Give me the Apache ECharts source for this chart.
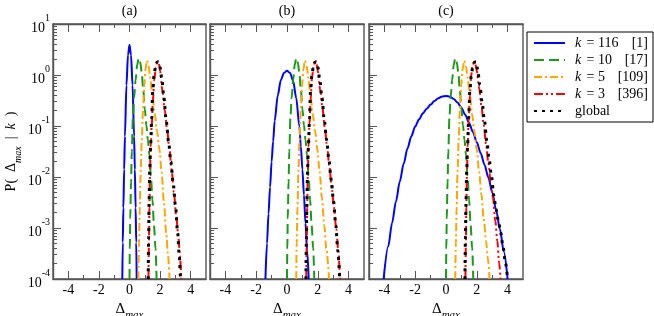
<!DOCTYPE html>
<html>
<head>
<meta charset="utf-8">
<script src="https://cdn.jsdelivr.net/npm/echarts@6.0.0/dist/echarts.min.js"></script>
<style>
html,body{margin:0;padding:0;background:#fff;}
#chart{width:654px;height:316px;}
</style>
</head>
<body>
<div id="chart"></div>
<script>
// ---------- texts / ticks ----------
const panelTitles = ['(a)', '(b)', '(c)'];
const xMajorTicks = [-4, -2, 0, 2, 4];
const xMinorTicks = [-3, -1, 1, 3];
const legendKeys = ['k116', 'k10', 'k5', 'k3', 'global'];
const legendK = ['116', '10', '5', '3'];
const legendCounts = ['[1]', '[17]', '[109]', '[396]'];

// ---------- shared k = 10 curve ----------
const green_x = [0, 0.02, 0.05, 0.1, 0.15, 0.22, 0.3, 0.4, 0.5, 0.6, 0.7, 0.8, 0.9, 1.0, 1.1, 1.2, 1.3, 1.4, 1.5, 1.6, 1.7, 1.77];
const green_p = [1e-4, 3.98e-4, 1.58e-3, 7.94e-3, 3.16e-2, 0.141, 0.355, 0.794, 1.58, 2.14, 1.78, 1.12, 0.501, 0.219, 0.105, 5.37e-2, 2.75e-2, 1.05e-2, 3.55e-3, 1.12e-3, 3.98e-4, 1e-4];

// ---------- panel (a) ----------
const a_blue_x = [-0.47, -0.44, -0.4, -0.35, -0.3, -0.2, -0.1, 0, 0.1, 0.2, 0.3, 0.35, 0.4, 0.44, 0.47];
const a_blue_p = [1e-4, 5.2e-4, 2.5e-3, 1.4e-2, 6.3e-2, 0.63, 2.45, 3.9, 2.45, 0.63, 6.3e-2, 1.4e-2, 2.5e-3, 5.2e-4, 1e-4];
const a_orange_x = [0.58, 0.62, 0.67, 0.73, 0.8, 0.88, 0.97, 1.05, 1.14, 1.25, 1.35, 1.5, 1.65, 1.8, 1.95, 2.1, 2.25, 2.4, 2.52, 2.62];
const a_orange_p = [1e-4, 5.01e-4, 2.51e-3, 1.26e-2, 5.01e-2, 0.2, 0.631, 1.32, 1.91, 1.51, 0.891, 0.398, 0.178, 7.94e-2, 3.55e-2, 1.26e-2, 3.16e-3, 7.94e-4, 2.82e-4, 1e-4];
const a_red_x = [1.24, 1.27, 1.3, 1.34, 1.39, 1.45, 1.53, 1.62, 1.72, 1.82, 1.92, 2.0, 2.15, 2.3, 2.45, 2.6, 2.75, 2.9, 3.05, 3.2, 3.3, 3.38];
const a_red_p = [1e-4, 5.01e-4, 2.51e-3, 1.26e-2, 3.98e-2, 0.1, 0.316, 0.794, 1.41, 1.78, 1.66, 1.2, 0.501, 0.209, 8.91e-2, 3.8e-2, 1.41e-2, 5.01e-3, 1.78e-3, 6.31e-4, 2.82e-4, 1e-4];
const a_black_x = [1.22, 1.25, 1.28, 1.32, 1.38, 1.45, 1.52, 1.6, 1.7, 1.8, 1.9, 2.0, 2.12, 2.25, 2.4, 2.55, 2.7, 2.85, 3.0, 3.15, 3.25, 3.33];
const a_black_p = [1e-4, 6.31e-4, 3.16e-3, 1.26e-2, 3.98e-2, 0.141, 0.501, 0.955, 1.45, 1.78, 1.82, 1.41, 0.794, 0.355, 0.126, 5.01e-2, 2.0e-2, 7.94e-3, 2.82e-3, 7.94e-4, 2.82e-4, 1e-4];

// ---------- panel (b) ----------
const b_blue_x = [-1.4, -1.3, -1.2, -1.1, -1.0, -0.9, -0.8, -0.6, -0.4, -0.2, 0, 0.2, 0.4, 0.6, 0.8, 0.9, 1.0, 1.1, 1.2, 1.3, 1.41];
const b_blue_p = [1e-4, 5.01e-4, 1.91e-3, 6.31e-3, 2.0e-2, 5.01e-2, 0.126, 0.398, 0.794, 1.096, 1.216, 1.096, 0.759, 0.355, 0.1, 3.98e-2, 1.41e-2, 4.47e-3, 1.26e-3, 3.8e-4, 1e-4];
const b_orange_x = [0.6, 0.63, 0.68, 0.74, 0.81, 0.89, 0.98, 1.07, 1.16, 1.28, 1.38, 1.52, 1.67, 1.82, 1.97, 2.12, 2.27, 2.42, 2.55, 2.73];
const b_orange_p = [1e-4, 5.01e-4, 2.51e-3, 1.26e-2, 5.01e-2, 0.2, 0.631, 1.32, 1.91, 1.48, 0.891, 0.398, 0.174, 7.94e-2, 3.47e-2, 1.26e-2, 3.8e-3, 1.12e-3, 3.98e-4, 1e-4];
const b_red_x = [1.25, 1.28, 1.31, 1.35, 1.4, 1.46, 1.54, 1.62, 1.72, 1.82, 1.92, 2.0, 2.15, 2.3, 2.45, 2.6, 2.75, 2.9, 3.05, 3.2, 3.33, 3.44];
const b_red_p = [1e-4, 5.01e-4, 2.51e-3, 1.26e-2, 3.98e-2, 0.112, 0.355, 0.871, 1.45, 1.78, 1.62, 1.2, 0.525, 0.229, 9.55e-2, 4.07e-2, 1.62e-2, 6.31e-3, 2.51e-3, 9.55e-4, 3.55e-4, 1e-4];
const b_black_x = [1.23, 1.26, 1.29, 1.33, 1.39, 1.46, 1.53, 1.61, 1.71, 1.81, 1.91, 2.01, 2.13, 2.27, 2.42, 2.57, 2.72, 2.87, 3.02, 3.17, 3.3, 3.42];
const b_black_p = [1e-4, 6.31e-4, 3.16e-3, 1.26e-2, 3.98e-2, 0.141, 0.501, 0.955, 1.45, 1.78, 1.82, 1.41, 0.794, 0.355, 0.132, 5.37e-2, 2.19e-2, 8.91e-3, 3.39e-3, 1.12e-3, 3.55e-4, 1e-4];

// ---------- panel (c) ----------
const c_blue_x = [-4.05, -3.75, -3.5, -3.25, -3.0, -2.75, -2.5, -2.25, -2.0, -1.75, -1.5, -1.25, -1.0, -0.75, -0.5, -0.25, 0, 0.25, 0.5, 0.75, 1.0, 1.25, 1.5, 1.75, 2.0, 2.25, 2.5, 2.75, 3.0, 3.25, 3.5, 3.75, 4.0];
const c_blue_p = [1e-4, 4.37e-4, 1.26e-3, 3.31e-3, 8.13e-3, 1.82e-2, 3.63e-2, 6.31e-2, 9.77e-2, 0.135, 0.178, 0.219, 0.263, 0.309, 0.351, 0.380, 0.389, 0.376, 0.339, 0.288, 0.226, 0.166, 0.115, 7.59e-2, 4.79e-2, 2.95e-2, 1.74e-2, 9.77e-3, 5.01e-3, 2.29e-3, 9.55e-4, 3.47e-4, 1e-4];
const c_orange_x = [0.6, 0.64, 0.69, 0.75, 0.82, 0.9, 0.99, 1.08, 1.18, 1.3, 1.4, 1.55, 1.7, 1.85, 2.0, 2.15, 2.3, 2.45, 2.6, 2.72, 2.83];
const c_orange_p = [1e-4, 5.01e-4, 2.51e-3, 1.26e-2, 5.01e-2, 0.2, 0.631, 1.32, 1.91, 1.45, 0.891, 0.398, 0.166, 7.59e-2, 3.39e-2, 1.26e-2, 4.47e-3, 1.51e-3, 5.62e-4, 2.51e-4, 1e-4];
const c_red_x = [1.26, 1.29, 1.32, 1.36, 1.41, 1.47, 1.55, 1.63, 1.72, 1.82, 1.92, 2.0, 2.15, 2.3, 2.45, 2.6, 2.75, 2.9, 3.05, 3.2, 3.33, 3.45, 3.54];
const c_red_p = [1e-4, 5.01e-4, 2.51e-3, 1.26e-2, 3.98e-2, 0.126, 0.398, 0.955, 1.51, 1.78, 1.58, 1.2, 0.562, 0.251, 0.105, 4.47e-2, 1.91e-2, 7.94e-3, 3.98e-3, 1.41e-3, 5.62e-4, 2.09e-4, 1e-4];
const c_black_x = [1.23, 1.26, 1.3, 1.34, 1.4, 1.47, 1.55, 1.64, 1.74, 1.85, 1.95, 2.05, 2.2, 2.35, 2.5, 2.65, 2.8, 2.95, 3.1, 3.25, 3.4, 3.55, 3.7, 3.85, 4.0];
const c_black_p = [1e-4, 6.31e-4, 3.16e-3, 1.26e-2, 3.98e-2, 0.141, 0.501, 0.955, 1.45, 1.78, 1.82, 1.32, 0.631, 0.282, 0.126, 5.01e-2, 2.24e-2, 1.05e-2, 4.37e-3, 2.34e-3, 1.38e-3, 8.13e-4, 4.37e-4, 2.19e-4, 1e-4];

// ---------- build ----------
const FONT = "'Liberation Serif', 'DejaVu Serif', 'Times New Roman', serif";
const AXIS_COLOR = '#555';

const panelSeries = [
  {k116: [a_blue_x, a_blue_p], k10: [green_x, green_p], k5: [a_orange_x, a_orange_p], k3: [a_red_x, a_red_p], global: [a_black_x, a_black_p]},
  {k116: [b_blue_x, b_blue_p], k10: [green_x, green_p], k5: [b_orange_x, b_orange_p], k3: [b_red_x, b_red_p], global: [b_black_x, b_black_p]},
  {k116: [c_blue_x, c_blue_p], k10: [green_x, green_p], k5: [c_orange_x, c_orange_p], k3: [c_red_x, c_red_p], global: [c_black_x, c_black_p]}
];

const styleOf = {
  k116: {color: '#0000ff', type: 'solid', width: 2},
  k10: {color: '#1a9a1a', type: [10, 5], width: 2},
  k5: {color: '#ffa500', type: [8, 3, 2, 3], width: 2},
  k3: {color: '#ff0000', type: [9, 3, 2, 3, 2, 3], width: 2},
  global: {color: '#000000', type: [3, 5], width: 3}
};

const gridBoxes = [
  {left: 53, top: 24, width: 153, height: 255},
  {left: 210, top: 24, width: 154, height: 255},
  {left: 369, top: 24, width: 154, height: 255}
];

const yMinorPos = [];
for (let n = -4; n < 1; n++) {
  for (let k = 2; k <= 9; k++) yMinorPos.push(n + Math.log10(k));
}

const lineSt = {color: AXIS_COLOR, width: 1.4};
const tickSt = {color: AXIS_COLOR, width: 1};
const grids = gridBoxes.map(g => Object.assign({}, g, {show: true, borderColor: AXIS_COLOR, borderWidth: 1.4, backgroundColor: 'transparent', containLabel: false, outerBoundsMode: 'none'}));

const xAxes = [];
const yAxes = [];
gridBoxes.forEach((g, i) => {
  const base = {gridIndex: i, type: 'value', min: -5, max: 5, splitLine: {show: false}, axisPointer: {show: false}};
  xAxes.push(Object.assign({}, base, {
    position: 'bottom',
    axisLine: {show: true, onZero: false, lineStyle: lineSt},
    axisTick: {show: true, inside: true, length: 8, customValues: xMajorTicks, lineStyle: tickSt},
    axisLabel: {show: true, customValues: xMajorTicks, margin: 4, fontFamily: FONT, fontSize: 14, color: '#000'},
    name: '{d|Δ}{s|max}', nameLocation: 'middle', nameGap: 13,
    nameTextStyle: {rich: {
      d: {fontFamily: FONT, fontSize: 15, color: '#000', lineHeight: 19, verticalAlign: 'top'},
      s: {fontFamily: FONT, fontSize: 11, fontStyle: 'italic', color: '#000', lineHeight: 11, verticalAlign: 'bottom'}
    }}
  }));
  xAxes.push(Object.assign({}, base, {
    position: 'bottom',
    axisLine: {show: false, onZero: false},
    axisTick: {show: true, inside: true, length: 4, customValues: xMinorTicks, lineStyle: tickSt},
    axisLabel: {show: false}
  }));
  xAxes.push(Object.assign({}, base, {
    position: 'top',
    axisLine: {show: true, onZero: false, lineStyle: lineSt},
    axisTick: {show: true, inside: true, length: 8, customValues: xMajorTicks, lineStyle: tickSt},
    axisLabel: {show: false},
    name: panelTitles[i], nameLocation: 'middle', nameGap: 6,
    nameTextStyle: {fontFamily: FONT, fontSize: 14, color: '#000'}
  }));
  xAxes.push(Object.assign({}, base, {
    position: 'top',
    axisLine: {show: false, onZero: false},
    axisTick: {show: true, inside: true, length: 4, customValues: xMinorTicks, lineStyle: tickSt},
    axisLabel: {show: false}
  }));

  yAxes.push({
    gridIndex: i, type: 'log', logBase: 10, min: 1e-4, max: 10, position: 'left',
    splitLine: {show: false}, axisPointer: {show: false},
    axisLine: {show: true, onZero: false, lineStyle: lineSt},
    axisTick: {show: true, inside: true, length: 8, lineStyle: tickSt},
    minorTick: {show: false},
    axisLabel: {
      show: i === 0, margin: 3,
      formatter: v => '{b|10}{s|' + Math.round(Math.log10(v)) + '}',
      rich: {
        b: {fontFamily: FONT, fontSize: 14, color: '#000', lineHeight: 22, verticalAlign: 'bottom'},
        s: {fontFamily: FONT, fontSize: 10, color: '#000', lineHeight: 10, verticalAlign: 'top'}
      }
    },
    name: i === 0 ? '{b|P(}{sp|}{b|Δ}{s|max}{sp|}{b||}{sp|}{i|k}{sp|}{b|)}' : '',
    nameLocation: 'middle', nameGap: 24,
    nameTextStyle: {rich: {
      b: {fontFamily: FONT, fontSize: 14, color: '#000', lineHeight: 19, verticalAlign: 'top'},
      i: {fontFamily: FONT, fontSize: 14, fontStyle: 'italic', color: '#000', lineHeight: 19, verticalAlign: 'top'},
      s: {fontFamily: FONT, fontSize: 10, fontStyle: 'italic', color: '#000', lineHeight: 10, verticalAlign: 'bottom'},
      sp: {width: 7}
    }}
  });
  yAxes.push({
    gridIndex: i, type: 'value', min: -4, max: 1, position: 'left',
    splitLine: {show: false}, axisPointer: {show: false},
    axisLine: {show: false, onZero: false},
    axisTick: {show: true, inside: true, length: 4, customValues: yMinorPos, lineStyle: tickSt},
    axisLabel: {show: false}
  });
});

const series = [];
panelSeries.forEach((ps, i) => {
  legendKeys.forEach(key => {
    const xs = ps[key][0], ys = ps[key][1];
    const st = styleOf[key];
    series.push({
      name: key, type: 'line', xAxisIndex: 4 * i, yAxisIndex: 2 * i,
      data: xs.map((x, j) => [x, ys[j]]),
      symbol: 'none', showSymbol: false,
      smooth: 0.3, smoothMonotone: 'x',
      lineStyle: {color: st.color, type: st.type, width: st.width, cap: 'butt'},
      itemStyle: {color: st.color},
      emphasis: {disabled: true},
      clip: true
    });
  });
});

const chart = echarts.init(document.getElementById('chart'), null, {renderer: 'canvas'});
chart.setOption({
  animation: false,
  backgroundColor: '#fff',
  grid: grids,
  xAxis: xAxes,
  yAxis: yAxes,
  legend: {
    data: legendKeys,
    orient: 'vertical',
    left: 527, top: 32,
    padding: [4, 5, 4, 6],
    itemWidth: 31, itemHeight: 14, itemGap: 3,
    borderColor: '#000', borderWidth: 1,
    backgroundColor: '#fff',
    selectedMode: false,
    itemStyle: {opacity: 0},
    formatter: name => {
      const i = legendKeys.indexOf(name);
      if (i === 4) return '{g|global}';
      return '{i|k}{n| = ' + legendK[i] + '}{r|' + legendCounts[i] + '}';
    },
    textStyle: {
      fontFamily: FONT, fontSize: 14, color: '#000',
      rich: {
        i: {fontFamily: FONT, fontSize: 14, fontStyle: 'italic', color: '#000', width: 8, padding: [0, 0, 0, 5]},
        n: {fontFamily: FONT, fontSize: 14, color: '#000', width: 40},
        r: {fontFamily: FONT, fontSize: 14, color: '#000', width: 25, align: 'right'},
        g: {fontFamily: FONT, fontSize: 14, color: '#000', padding: [0, 0, 0, 5]}
      }
    }
  },
  series: series
});
</script>
</body>
</html>
